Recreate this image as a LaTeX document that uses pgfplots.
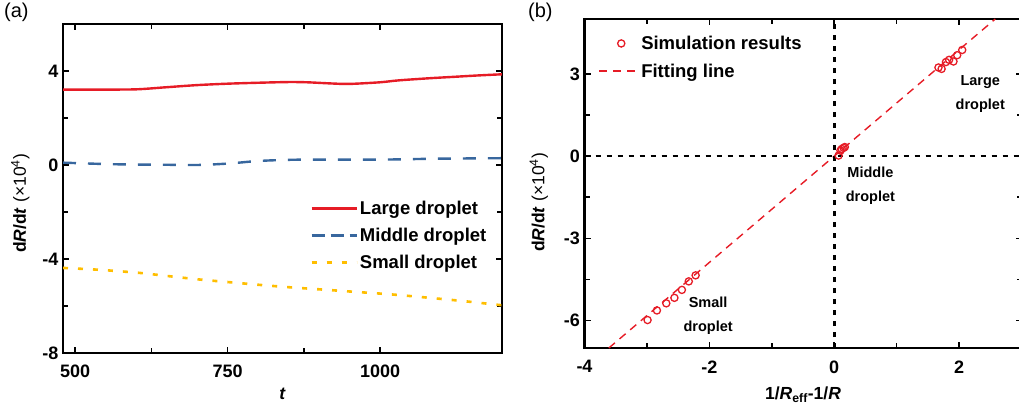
\documentclass[border=0pt]{standalone}
\usepackage{pgfplots}
\pgfplotsset{compat=1.18}
\usepackage{fontspec}
\setmainfont{Liberation Sans}
\definecolor{lred}{RGB}{230,28,38}
\definecolor{lblue}{RGB}{56,103,158}
\definecolor{lyel}{RGB}{255,190,0}
\pgfplotsset{
  every axis/.append style={
    scale only axis,
    axis line style={line width=2.2pt},
    tick align=inside,
    major tick length=6pt,
    minor tick length=5pt,
    every tick/.style={black,line width=1.6pt},
    tick label style={font=\fontsize{18}{18}\selectfont\bfseries},
    label style={font=\fontsize{17.5}{17.5}\selectfont},
  },
  legLarge/.style={legend image code/.code={\draw[lred,line width=2.4pt] (0pt,0pt) -- (45pt,0pt);}},
  legMiddle/.style={legend image code/.code={\draw[lblue,line width=2.4pt,dash pattern=on 13pt off 6pt] (0pt,0pt) -- (45pt,0pt);}},
  legSmall/.style={legend image code/.code={\draw[lyel,line width=2.6pt,dash pattern=on 5pt off 10pt] (0pt,0pt) -- (45pt,0pt);}},
  legSim/.style={legend image code/.code={\draw[lred,line width=1.3pt] (22pt,0pt) circle (3.6pt);}},
  legFit/.style={legend image code/.code={\draw[color=lred,draw=lred,line width=2pt,dash pattern=on 8pt off 6pt] (0pt,0pt) -- (39pt,0pt);}},
}
\begin{document}
\begin{tikzpicture}[x=1pt,y=1pt]
\useasboundingbox (0,0) rectangle (1019,405);
\node[anchor=north west,inner sep=0pt,font=\fontsize{20}{20}\selectfont] at (4,402) {(a)};
\node[anchor=north west,inner sep=0pt,font=\fontsize{20}{20}\selectfont] at (528,402) {(b)};
% Panel (a)
\begin{axis}[
  at={(63pt,52pt)}, anchor=south west,
  width=439pt, height=329pt,
  xmin=480, xmax=1200, ymin=-8, ymax=6,
  xtick={500,750,1000}, xticklabels={500,750,1000},
  ytick={-8,-4,0,4}, yticklabels={-8,-4,0,4},
  minor x tick num=1, minor y tick num=1,
  xticklabel style={yshift=-8pt},
  yticklabel style={xshift=-1pt},
  xlabel={\textbf{\textit{t}}},
  ylabel={\textbf{d\textit{R}/d\textit{t}} (×10\textsuperscript{4})},
  xlabel style={yshift=-4pt},
  ylabel style={yshift=6pt, xshift=-15pt},
  legend style={at={(0.563,0.468)}, anchor=north west, draw=none, fill=none,
    inner sep=0pt, row sep=8pt, font=\fontsize{18.5}{18.5}\selectfont\bfseries,
    /tikz/every even column/.append style={column sep=3pt}},
  legend cell align=left,
]
\addplot[lred, line width=2.4pt, smooth, legLarge] coordinates {
(480,3.21) (540,3.21) (600,3.22) (650,3.31) (700,3.40) (750,3.46) (800,3.50) (850,3.53) (880,3.52) (920,3.47) (950,3.45) (1000,3.52) (1030,3.60) (1080,3.69) (1120,3.75) (1160,3.81) (1200,3.86)};
\addlegendentry{Large droplet}
\addplot[lblue, line width=2.4pt, dash pattern=on 13pt off 12pt, smooth, legMiddle] coordinates {
(480,0.10) (550,0.04) (600,0.02) (650,0.01) (700,0.0) (750,0.06) (800,0.17) (850,0.22) (900,0.23) (1000,0.23) (1050,0.25) (1100,0.27) (1200,0.29)};
\addlegendentry{Middle droplet}
\addplot[lyel, line width=2.6pt, dash pattern=on 5pt off 10pt, smooth, legSmall] coordinates {
(480,-4.38) (540,-4.46) (605,-4.59) (650,-4.72) (703,-4.87) (750,-4.98) (802,-5.10) (850,-5.20) (911,-5.31) (960,-5.40) (1020,-5.51) (1080,-5.65) (1140,-5.80) (1200,-5.97)};
\addlegendentry{Small droplet}
\end{axis}
% Panel (b)
\begin{axis}[
  at={(584.5pt,57pt)}, anchor=south west,
  width=437pt, height=329pt,
  xmin=-4, xmax=3, ymin=-7, ymax=5,
  xtick={-4,-2,0,2}, xticklabels={-4,-2,0,2},
  ytick={-6,-3,0,3}, yticklabels={-6,-3,0,3},
  minor x tick num=1, minor y tick num=1,
  xticklabel style={yshift=-9pt},
  yticklabel style={xshift=-1pt},
  xlabel={\textbf{1/\textit{R}\textsubscript{eff}-1/\textit{R}}},
  ylabel={\textbf{d\textit{R}/d\textit{t}} (×10\textsuperscript{4})},
  xlabel style={yshift=-7pt},
  ylabel style={yshift=9pt, xshift=-19pt},
  legend style={at={(0.031,0.955)}, anchor=north west, draw=none, fill=none,
    inner sep=0pt, row sep=9pt, font=\fontsize{18.5}{18.5}\selectfont\bfseries,
    /tikz/every even column/.append style={column sep=17pt}},
  legend cell align=left,
]
\addplot[only marks, mark=o, lred, mark size=3.6pt, mark options={line width=1.3pt}, legSim] coordinates {
(1.67,3.23) (1.72,3.18) (1.79,3.43) (1.84,3.51) (1.91,3.45) (1.97,3.68) (2.05,3.87)
(0.07,0.02) (0.10,0.20) (0.12,0.26) (0.15,0.30) (0.17,0.33)
(-2.99,-5.98) (-2.84,-5.63) (-2.69,-5.37) (-2.56,-5.17) (-2.44,-4.88) (-2.33,-4.57) (-2.22,-4.35)};
\addlegendentry{Simulation results}
\addplot[lred, line width=1.4pt, dash pattern=on 8pt off 6pt, legFit] coordinates {(-3.61,-7) (2.58,5)};
\addlegendentry{Fitting line}
\addplot[black, line width=2.6pt, dash pattern=on 5pt off 6pt, forget plot] coordinates {(-4,0) (3,0)};
\addplot[black, line width=2.6pt, dash pattern=on 5pt off 6pt, forget plot] coordinates {(0,-7) (0,5)};
\node[align=center, font=\fontsize{14.5}{24}\selectfont\bfseries] at (axis cs:2.34,2.27) {Large\\droplet};
\node[align=center, font=\fontsize{14.5}{24}\selectfont\bfseries] at (axis cs:0.58,-1.10) {Middle\\droplet};
\node[align=center, font=\fontsize{14.5}{24}\selectfont\bfseries] at (axis cs:-2.02,-5.84) {Small\\droplet};
\end{axis}
\end{tikzpicture}
\end{document}
